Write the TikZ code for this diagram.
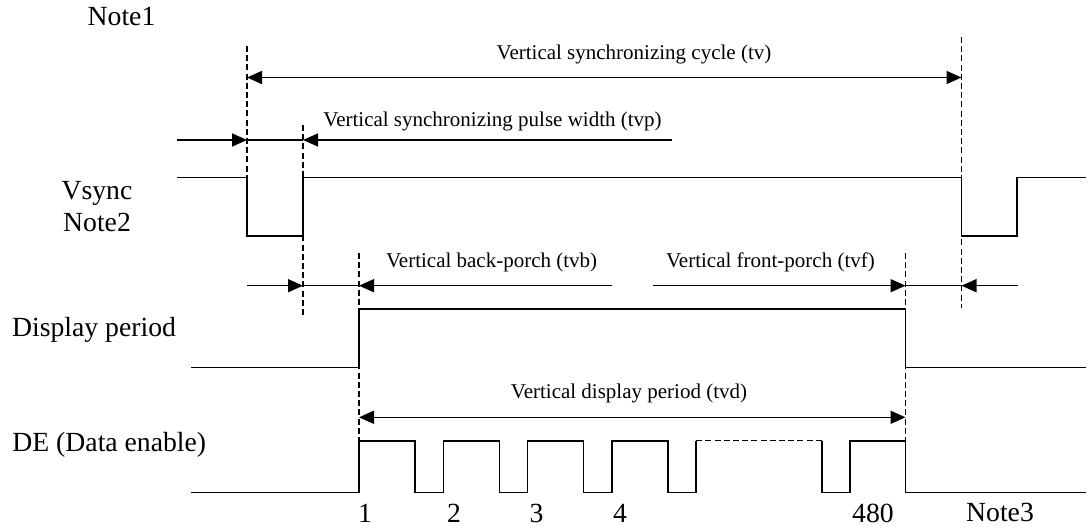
\documentclass[tikz,border=0pt]{standalone}
\usepackage{fontspec}
\setmainfont{Liberation Serif}
\usetikzlibrary{arrows.meta, positioning, calc}
\tikzset{
  signal/.style={
    draw=black,
    line width=0.8pt
  },
  guide/.style={
    draw=black,
    line width=0.6pt,
    dash pattern=on 3pt off 1.6pt
  },
  arrow/.style={
    draw=black,
    line width=0.8pt,
    -{Triangle[length=7.5pt,width=6.5pt]}
  },
  dblarrow/.style={
    draw=black,
    line width=0.8pt,
    {Triangle[length=7.5pt,width=6.5pt]}-{Triangle[length=7.5pt,width=6.5pt]}
  },
  biglabel/.style={
    font=\fontsize{13.85}{16}\selectfont,
    inner sep=0pt
  },
  smalllabel/.style={
    font=\fontsize{10.5}{12}\selectfont,
    inner sep=0pt
  }
}

\begin{document}
\begin{tikzpicture}[x=0.5pt, y=-0.5pt]
\useasboundingbox (0,0) rectangle (1090,528);

% labels
\node[biglabel, anchor=base] (note1) at (121.5,26) {Note1};
\node[biglabel, anchor=base] (vsync) at (97,200) {Vsync};
\node[biglabel, anchor=base] (note2) at (97,231.7) {Note2};
\node[biglabel, anchor=base west] (disp) at (11.7,337) {Display period};
\node[biglabel, anchor=base west] (de) at (12,451) {DE (Data enable)};

% waveforms
\draw[signal] (177,177.5) -| (247,236) -| (303,177.5) -| (961.5,236) -| (1017,177.5) -- (1086,177.5);
\draw[signal] (191,367.5) -| (359,309.3) -| (905.5,367.5) -- (1086,367.5);
\draw[signal] (191,492.3)
  foreach \k in {0,...,3} {
    -- ({359+84.3*\k},492.3) -- ({359+84.3*\k},440.7)
    -- ({415+84.3*\k},440.7) -- ({415+84.3*\k},492.3)
  } -- (696.2,492.3) -- (696.2,440.7);
\draw[guide] (696.2,440.7) -- (821.7,440.7);
\draw[signal] (821.7,440.7) |- (850,492.3) |- (905.5,440.7) -- (905.5,492.3) -- (1086,492.3);

% guides
\draw[guide] (247,46) -- (247,236);
\draw[guide] (303,125) -- (303,315);
\draw[guide] (961.5,37) -- (961.5,308);
\draw[guide] (359,253) -- (359,440.7);
\draw[guide] (905.5,253) -- (905.5,440.7);

% line numbers
\foreach \n/\x in {1/365, 2/454, 3/536.5, 4/620, 480/873}
  \node[biglabel, anchor=base] (line\n) at (\x,522) {\n};
\node[biglabel, anchor=base] (note3) at (1000,521) {Note3};

% tv
\coordinate (tv-a) at (247,77.5);
\coordinate (tv-e) at (961.5,77.5);
\draw[dblarrow] (tv-a) -- (tv-e);
\node[smalllabel, anchor=base] (tv) at (634,59.5) {Vertical synchronizing cycle (tv)};

% tvp
\coordinate (tvp-s) at (177,140);
\coordinate (tvp-a) at (247,140);
\coordinate (tvp-b) at (303,140);
\coordinate (tvp-t) at (672,140);
\draw[arrow] (tvp-s) -- (tvp-a);
\draw[signal] (tvp-a) -- (tvp-b);
\draw[arrow] (tvp-t) -- (tvp-b);
\node[smalllabel, anchor=base west] (tvp) at (323,127) {Vertical synchronizing pulse width (tvp)};

% tvb and tvf
\coordinate (tvb-s) at (247,285.7);
\coordinate (tvb-b) at (303,285.7);
\coordinate (tvb-c) at (359,285.7);
\coordinate (tvb-t) at (611.7,285.7);
\draw[arrow] (tvb-s) -- (tvb-b);
\draw[signal] (tvb-b) -- (tvb-c);
\draw[arrow] (tvb-t) -- (tvb-c);
\node[smalllabel, anchor=base west] (tvb) at (385.7,267.3) {Vertical back-porch (tvb)};

\coordinate (tvf-s) at (653,285.7);
\coordinate (tvf-d) at (905.5,285.7);
\coordinate (tvf-e) at (961.5,285.7);
\coordinate (tvf-t) at (1017.7,285.7);
\draw[arrow] (tvf-s) -- (tvf-d);
\draw[signal] (tvf-d) -- (tvf-e);
\draw[arrow] (tvf-t) -- (tvf-e);
\node[smalllabel, anchor=base west] (tvf) at (665.7,267.3) {Vertical front-porch (tvf)};

% tvd
\coordinate (tvd-c) at (359,417.3);
\coordinate (tvd-d) at (905.5,417.3);
\draw[dblarrow] (tvd-c) -- (tvd-d);
\node[smalllabel, anchor=base] (tvd) at (629,399) {Vertical display period (tvd)};
\end{tikzpicture}
\end{document}
